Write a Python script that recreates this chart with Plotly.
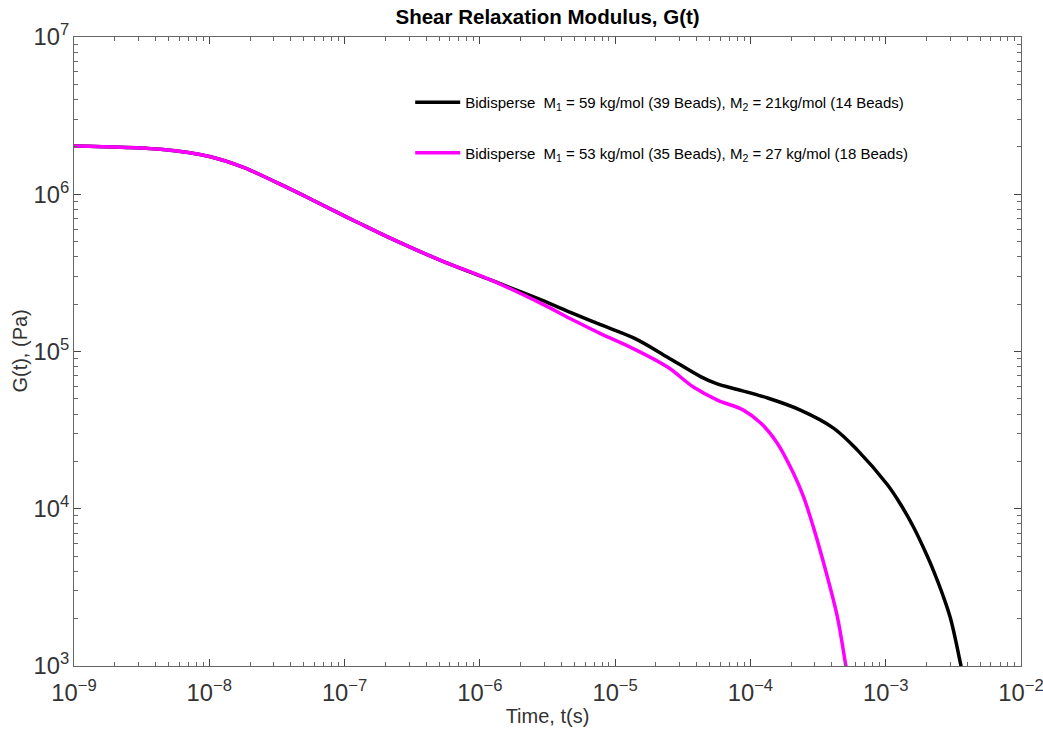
import plotly.graph_objects as go

# Time (s) and G(t) (Pa)
t_black = [1.00e-9, 4.36e-9, 1.02e-8, 1.79e-8, 3.19e-8, 5.60e-8, 8.91e-8, 1.31e-7, 2.30e-7,
           5.12e-7, 1.20e-6, 2.81e-6, 4.92e-6, 7.80e-6, 1.37e-5, 2.44e-5, 4.28e-5, 5.62e-5,
           7.50e-5, 1.34e-4, 2.34e-4, 4.11e-4, 6.18e-4, 1.03e-3, 1.26e-3, 1.60e-3, 2.00e-3,
           2.25e-3, 2.63e-3, 3.01e-3, 3.56e-3, 3.80e-3]
g_black = [2.03e6, 1.93e6, 1.73e6, 1.48e6, 1.18e6, 9.33e5, 7.64e5, 6.49e5, 5.15e5,
           3.80e5, 2.85e5, 2.14e5, 1.74e5, 1.48e5, 1.22e5, 9.20e4, 6.92e4, 6.24e4,
           5.82e4, 5.06e4, 4.24e4, 3.26e4, 2.36e4, 1.42e4, 1.10e4, 7.69e3, 5.14e3,
           4.06e3, 2.86e3, 2.01e3, 1.05e3, 7.90e2]

t_mag = [1.00e-9, 4.36e-9, 1.02e-8, 1.79e-8, 3.19e-8, 5.60e-8, 8.91e-8, 1.31e-7, 2.30e-7,
         5.12e-7, 1.20e-6, 2.81e-6, 4.92e-6, 7.80e-6, 1.37e-5, 2.44e-5, 3.79e-5, 5.70e-5,
         8.87e-5, 1.19e-4, 1.58e-4, 2.08e-4, 2.47e-4, 2.92e-4, 3.71e-4, 4.40e-4, 5.04e-4,
         5.30e-4]
g_mag = [2.03e6, 1.93e6, 1.73e6, 1.48e6, 1.18e6, 9.33e5, 7.64e5, 6.49e5, 5.15e5,
         3.80e5, 2.85e5, 2.03e5, 1.58e5, 1.30e5, 1.04e5, 7.96e4, 5.94e4, 4.91e4,
         4.24e4, 3.51e4, 2.61e4, 1.68e4, 1.19e4, 7.64e3, 3.67e3, 2.04e3, 1.04e3,
         8.20e2]

name_black = "Bidisperse  M<sub>1</sub> = 59 kg/mol (39 Beads), M<sub>2</sub> = 21kg/mol (14 Beads)"
name_mag = "Bidisperse  M<sub>1</sub> = 53 kg/mol (35 Beads), M<sub>2</sub> = 27 kg/mol (18 Beads)"

FONT = "Liberation Sans, Arial, sans-serif"

fig = go.Figure()
fig.add_trace(go.Scatter(x=t_black, y=g_black, mode="lines", name=name_black,
                         line=dict(color="black", width=3.5, shape="spline", smoothing=1.0),
                         legendgroup="a"))
fig.add_trace(go.Scatter(x=t_mag, y=g_mag, mode="lines", name=name_mag,
                         line=dict(color="#ff00ff", width=3.5, shape="spline", smoothing=1.0),
                         legendgroup="b"))

axis_common = dict(type="log", dtick=1, exponentformat="power", showgrid=False,
                   zeroline=False, showline=True, linecolor="#666", linewidth=1,
                   mirror="ticks", ticks="inside", ticklen=7, tickcolor="#444",
                   automargin=False, ticklabeloverflow="allow",
                   tickfont=dict(family=FONT, size=19, color="#333"),
                   minor=dict(ticks="inside", ticklen=4, tickcolor="#666", showgrid=False))

fig.update_layout(
    width=1043, height=731,
    margin=dict(l=74, r=22, t=37, b=65),
    paper_bgcolor="white", plot_bgcolor="white",
    title=dict(text="<b>Shear Relaxation Modulus, G(t)</b>", x=0.525, xanchor="center",
               y=0.987, yanchor="top", automargin=False,
               font=dict(family=FONT, size=20.5, color="black")),
    xaxis=dict(range=[-9, -2], ticklabelstandoff=6,
               title=dict(text="Time, t(s)", standoff=4,
                          font=dict(family=FONT, size=20, color="#333")), **axis_common),
    yaxis=dict(range=[3, 7], ticklabelstandoff=0, **axis_common),
    legend=dict(x=0.355, y=0.922, xanchor="left", yanchor="top", bgcolor="rgba(0,0,0,0)",
                borderwidth=0, traceorder="grouped", tracegroupgap=28, itemwidth=45,
                font=dict(family=FONT, size=15, color="black")),
    annotations=[dict(text="G(t), (Pa)", textangle=-90, xref="paper", yref="paper",
                      x=-0.058, y=0.5, xanchor="center", yanchor="middle", showarrow=False,
                      font=dict(family=FONT, size=20, color="#333"))],
)

fig.write_html("out.html")
